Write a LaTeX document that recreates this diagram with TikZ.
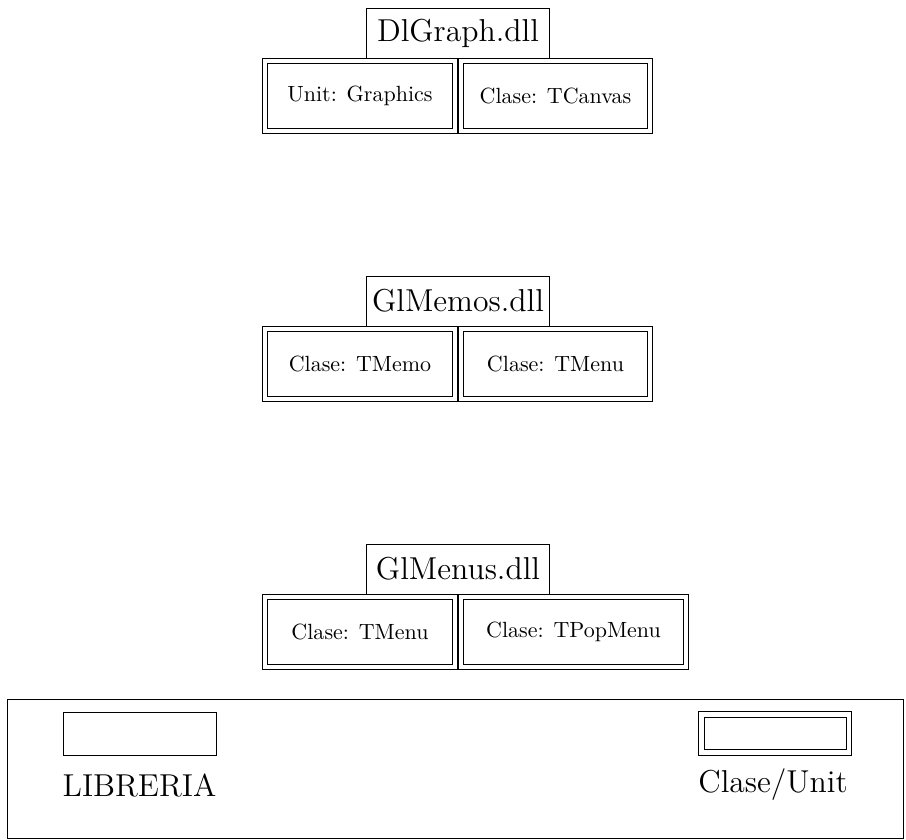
\documentclass[tikz,border=0pt]{standalone}
\newcommand\U{0.4545pt}
\begin{document}
\begin{tikzpicture}[x=\U, y=-\U,
  titlebox/.style={draw, line width=0.45pt, font=\Large, inner sep=0pt,
    minimum width=183*\U, minimum height=50*\U},
  clsbox/.style={draw, double, double distance=2.2pt, line width=0.45pt,
    inner sep=0pt, minimum height=70*\U},
  libbox/.style={draw, line width=0.45pt, inner sep=0pt},
  legtext/.style={font=\Large, anchor=base, inner sep=0pt}]
\useasboundingbox (0,0) rectangle (906,840);

% Block 1
\node[clsbox, minimum width=190*\U] (l1) at (360,96) {Unit: Graphics};
\node[clsbox, minimum width=189*\U] (r1) at (555.5,96) {Clase: TCanvas};
\node[titlebox] (t1) at (458,33) {DlGraph.dll};

% Block 2
\node[clsbox, minimum width=190*\U] (l2) at (360,364) {Clase: TMemo};
\node[clsbox, minimum width=189*\U] (r2) at (555.5,364) {Clase: TMenu};
\node[titlebox] (t2) at (458,301) {GlMemos.dll};

% Block 3
\node[clsbox, minimum width=190*\U] (l3) at (360,632) {Clase: TMenu};
\node[clsbox, minimum width=225*\U] (r3) at (573.5,632) {Clase: TPopMenu};
\node[titlebox] (t3) at (458,569) {GlMenus.dll};

% Legend
\node[libbox, minimum width=896*\U, minimum height=139*\U] (leg) at (455,768.5) {};
\node[libbox, minimum width=153*\U, minimum height=43*\U] (lib) at (139.5,733.5) {};
\node[clsbox, minimum width=147.5*\U, minimum height=38*\U] (cu) at (775.25,733.5) {};
\node[legtext] (libt) at (139.5,796) {LIBRERIA};
\node[legtext] (cut) at (773,793) {Clase/Unit};
\end{tikzpicture}
\end{document}
